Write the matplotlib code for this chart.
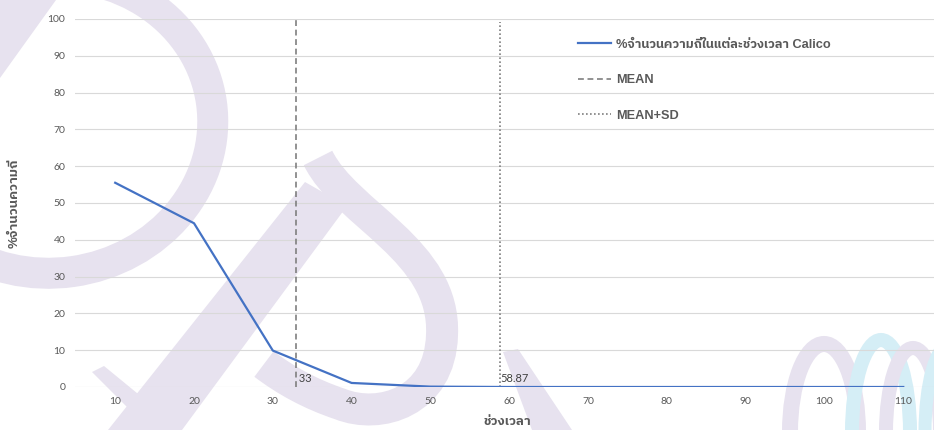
import matplotlib
matplotlib.use("Agg")
import matplotlib.pyplot as plt
from matplotlib import font_manager
from matplotlib.ft2font import FT2Font
from matplotlib.patches import Arc, Ellipse, PathPatch, Polygon
from matplotlib.path import Path
from matplotlib.transforms import Affine2D

# share of records (%) falling into each time bin
bins = [10, 20, 30, 40, 50, 60, 70, 80, 90, 100, 110]
share = [55.5, 44.5, 9.9, 1.1, 0.1, 0, 0, 0, 0, 0, 0]
mean_value = 33
mean_sd_value = 58.87

x_ticks = [10, 20, 30, 40, 50, 60, 70, 80, 90, 100, 110]
y_ticks = [0, 10, 20, 30, 40, 50, 60, 70, 80, 90, 100]

series_label = "%จำนวนความถี่ในแต่ละช่วงเวลา Calico"
mean_label = "MEAN"
mean_sd_label = "MEAN+SD"
x_title = "ช่วงเวลา"
y_title = "%จำนวนความถี่"

W, H = 934, 430
TEXT = "#595959"
GRID = "#d9d9d9"
LAV = "#e7e2ef"
SKY = "#d5eef6"


def thai_family():
    # installed family with Thai glyphs, preferring one that ships a bold face
    weights = {}
    for entry in font_manager.fontManager.ttflist:
        try:
            if 0x0E08 not in FT2Font(entry.fname).get_charmap():
                continue
        except Exception:
            continue
        w = entry.weight if isinstance(entry.weight, int) else 400
        weights.setdefault(entry.name, set()).add(w)
    if not weights:
        return None
    bold = [n for n, ws in weights.items() if max(ws) >= 600]
    sans = [n for n in bold if "Sans" in n] or bold or list(weights)
    return sans[0]


thai = thai_family()
families = ["Liberation Sans"] + ([thai] if thai else []) + ["DejaVu Sans"]
plt.rcParams["font.family"] = ["Lato", "DejaVu Sans"]

fig = plt.figure(figsize=(W / 100, H / 100), dpi=100)

# faint logo watermark, drawn in pixel space (y measured from the top)
px = Affine2D().scale(1, -1).translate(0, H)


def lw(pixels):
    return pixels * 72 / 100


marks = [
    Ellipse((52, 125), 322, 296, angle=-8, fill=False, ec=LAV, lw=lw(31)),
    Polygon([(0, 0), (56, 0), (0, 78)], fc=LAV, ec="none"),
    Polygon([(305, 182), (347, 206), (182, 430), (108, 430)], fc=LAV, ec="none"),
    Polygon([(92, 372), (104, 366), (182, 430), (150, 430)], fc=LAV, ec="none"),
    Polygon([(503, 352), (518, 349), (572, 430), (532, 430)], fc=LAV, ec="none"),
]
hook = Path(
    [(318, 158), (346, 215), (446, 250), (442, 335),
     (440, 402), (380, 420), (340, 404),
     (310, 394), (285, 380), (264, 364)],
    [Path.MOVETO, Path.CURVE4, Path.CURVE4, Path.CURVE4,
     Path.CURVE4, Path.CURVE4, Path.CURVE4,
     Path.CURVE4, Path.CURVE4, Path.CURVE4],
)
marks.append(PathPatch(hook, fill=False, ec=LAV, lw=lw(32), capstyle="butt"))
marks += [
    Arc((824, 432), 68, 176, theta1=180, theta2=360, ec=LAV, lw=lw(16)),
    Arc((881, 432), 58, 184, theta1=180, theta2=360, ec=SKY, lw=lw(14)),
    Arc((913, 432), 54, 168, theta1=180, theta2=360, ec=LAV, lw=lw(14)),
    Arc((950, 432), 50, 176, theta1=180, theta2=360, ec=SKY, lw=lw(13)),
]
for m in marks:
    m.set_transform(px)
    m.set_zorder(-5)
    fig.add_artist(m)

ax = fig.add_axes([75 / W, 43 / H, 859 / W, 368 / H])
ax.set_facecolor("none")

ax.plot(bins, share, color="#4472c4", lw=1.6, label=series_label, zorder=4)
ax.plot([mean_value, mean_value], [0, 100], color="#7f7f7f", lw=1.2,
        ls=(0, (3.5, 2.2)), label=mean_label, zorder=3)
ax.plot([mean_sd_value, mean_sd_value], [0, 99.2], color="#7f7f7f", lw=1.2,
        ls=(0, (1, 1.4)), label=mean_sd_label, zorder=3)

ax.text(mean_value, 0.9, " " + str(mean_value), fontsize=8, color="#404040",
        ha="left", va="bottom")
ax.text(mean_sd_value, 0.9, f"{mean_sd_value:.2f}", fontsize=8, color="#404040",
        ha="left", va="bottom")

ax.set_xlim(4.9, 113.9)
ax.set_ylim(0, 100)
ax.set_xticks(x_ticks)
ax.set_yticks(y_ticks)
ax.grid(axis="y", color=GRID, lw=0.8)
ax.set_axisbelow(True)
for s in ax.spines.values():
    s.set_visible(False)
ax.tick_params(length=0, labelsize=7.5, labelcolor=TEXT)
ax.tick_params(axis="x", pad=7)
ax.tick_params(axis="y", pad=7)

fig.text(507 / W, 1 - 422 / H, x_title, ha="center", va="center",
         fontsize=9.5, fontweight="bold", color=TEXT, family=families)
fig.text(15 / W, 1 - 203 / H, y_title, ha="center", va="center", rotation=90,
         fontsize=9.5, fontweight="bold", color=TEXT, family=families)

leg = ax.legend(loc="upper left", bbox_to_anchor=(578 / W, 1 - 38.5 / H),
                bbox_transform=fig.transFigure, frameon=False, borderpad=0,
                borderaxespad=0, handlelength=2.55, handletextpad=0.45,
                labelspacing=1.85, prop={"family": families, "size": 9.2,
                                         "weight": "bold"})
for t in leg.get_texts():
    t.set_color(TEXT)

fig.savefig("out.png", dpi=100)
